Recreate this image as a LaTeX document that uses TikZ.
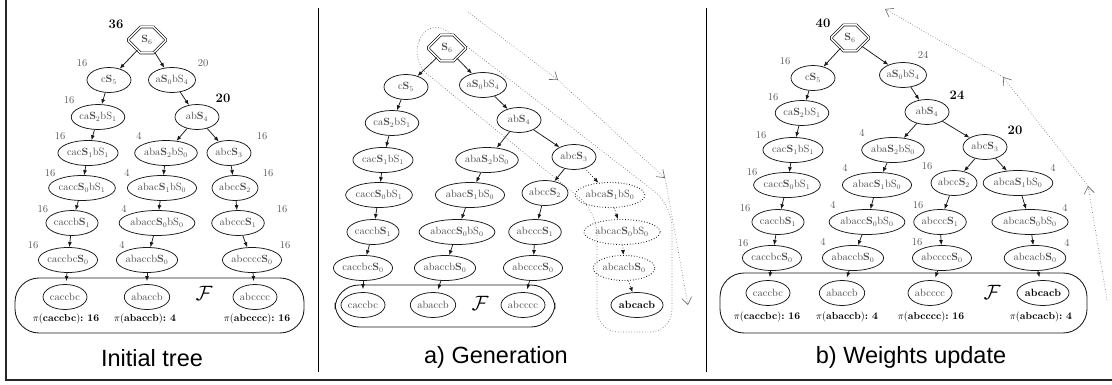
\documentclass[tikz,border=0pt]{standalone}
\usepackage{fontspec}
\newfontfamily\capfont{Liberation Sans}
\usetikzlibrary{shapes.geometric,shapes.misc,arrows.meta}
\newcommand\Sb[1]{\textbf{S}$_{#1}$}
\newcommand\Sn[1]{S$_{#1}$}
\newcommand\PiL[2]{$\pi$(\textbf{#1})\textbf{:\ #2}}
\tikzset{
 nd/.style={ellipse, draw=black!90, line width=0.75pt, inner sep=0.3pt, minimum width=44pt, minimum height=25pt, text=black!70, font=\fontsize{10.5}{12}\selectfont},
 dnd/.style={nd, dotted, line width=0.9pt},
 rootnd/.style={chamfered rectangle, chamfered rectangle xsep=9pt, chamfered rectangle ysep=8pt, draw=black!90, line width=0.65pt, double, double distance=1.5pt, inner sep=1pt, minimum width=37pt, minimum height=26pt, text=black!70, font=\fontsize{10.5}{12}\selectfont},
 edge/.style={-{Latex[length=5pt,width=4pt]}, line width=0.75pt, black!90},
 dedge/.style={edge, dotted},
 wt/.style={text=black!65, font=\fontsize{10.5}{12}\selectfont, inner sep=0pt},
 bwt/.style={font=\bfseries\fontsize{13}{14}\selectfont, inner sep=0pt},
 pil/.style={font=\fontsize{10.2}{12}\selectfont, inner sep=0pt},
 capt/.style={font=\capfont\fontsize{23.5}{26}\selectfont, inner sep=0pt},
 fam/.style={font=\fontsize{21}{22}\selectfont, inner sep=0pt},
 blob/.style={draw=black!90, line width=0.85pt, rounded corners=24pt},
 encl/.style={draw=black!55, dotted, line width=0.7pt, rounded corners=22pt},
 flow/.style={dotted, line width=0.6pt, black!60, -{Straight Barb[length=7pt,width=10pt]}}
}
\begin{document}
\begin{tikzpicture}[x=1pt,y=-1pt]
\useasboundingbox (0,0) rectangle (1112,385);
% frame
\draw[line width=2.7pt, black!85] (6,0) |- (1112,380);
\draw[line width=0.8pt] (318,8) -- (318,372);
\draw[line width=0.8pt] (706,8) -- (706,372);

% ================= Panel A: Initial tree =================
\node[rootnd] (Ar) at (147,40) {\Sb{6}};
\node[nd] (Ac1) at (109,80) {c\Sb{5}};
\node[nd] (Aa1) at (172,80) {a\Sb{0}b\Sn{4}};
\node[nd] (Aa2) at (197,117) {ab\Sb{4}};
\node[nd] (Ac2) at (98,117) {ca\Sb{2}b\Sn{1}};
\node[nd] (Ac3) at (88,153) {cac\Sb{1}b\Sn{1}};
\node[nd] (Ab3) at (166,153) {aba\Sb{2}b\Sn{0}};
\node[nd] (Ad3) at (229,153) {abc\Sb{3}};
\node[nd] (Ac4) at (82,188) {cacc\Sb{0}b\Sn{1}};
\node[nd] (Ab4) at (162,188) {abac\Sb{1}b\Sn{0}};
\node[nd] (Ad4) at (235,188) {abcc\Sb{2}};
\node[nd] (Ac5) at (72,223) {caccb\Sb{1}};
\node[nd] (Ab5) at (157,223) {abacc\Sb{0}b\Sn{0}};
\node[nd] (Ad5) at (238,223) {abccc\Sb{1}};
\node[nd] (Ac6) at (68,260) {caccbc\Sb{0}};
\node[nd] (Ab6) at (147,260) {abaccb\Sb{0}};
\node[nd] (Ad6) at (252,260) {abcccc\Sb{0}};
\draw[blob] (15,278) rectangle (304,333);
\node[nd] (AcL) at (65,297) {caccbc};
\node[nd] (AbL) at (147,297) {abaccb};
\node[nd] (AdL) at (255,297) {abcccc};
\node[fam] (AF) at (204,293) {$\mathcal{F}$};
\node[pil] (Ap1) at (66,319) {\PiL{caccbc}{16}};
\node[pil] (Ap2) at (145,319) {\PiL{abaccb}{4}};
\node[pil] (Ap3) at (257,319) {\PiL{abcccc}{16}};
\foreach \u/\v in {r/c1,r/a1,c1/c2,c2/c3,c3/c4,c4/c5,c5/c6,a1/a2,a2/b3,a2/d3,b3/b4,b4/b5,b5/b6,d3/d4,d4/d5,d5/d6}
  \draw[edge] (A\u) -- (A\v);
\foreach \u/\v in {c6/cL,b6/bL,d6/dL}
  \draw[edge, shorten >=3pt] (A\u) -- (A\v);
\node[bwt] (Aw0) at (116,24) {36};
\node[wt] (Aw1) at (82,63) {16};
\node[wt] (Aw2) at (203,63) {20};
\node[bwt] (Aw3) at (223,98) {20};
\node[wt] (Aw4) at (69,100) {16};
\node[wt] (Aw5) at (60,136) {16};
\node[wt] (Aw6) at (139,136) {4};
\node[wt] (Aw7) at (262,136) {16};
\node[wt] (Aw8) at (50,173) {16};
\node[wt] (Aw9) at (127,173) {4};
\node[wt] (Aw10) at (268,173) {16};
\node[wt] (Aw11) at (43,209) {16};
\node[wt] (Aw12) at (124,209) {4};
\node[wt] (Aw13) at (282,209) {16};
\node[wt] (Aw14) at (33,245) {16};
\node[wt] (Aw15) at (122,245) {4};
\node[wt] (Aw16) at (285,245) {16};
\node[capt] (Acap) at (152,358) {Initial tree};

% ================= Panel B: Generation =================
\draw[encl] (410,60) -- (430,18) -- (672,205) -- (672,332) -- (597,332) -- (597,212) -- cycle;
\coordinate (Bf0) at (468,12);
\coordinate (Bf1) at (558,80);
\coordinate (Bf2) at (665,178);
\coordinate (Bf3) at (688,305);
\draw[flow] (Bf0) -- (Bf1);
\draw[flow] (Bf1) -- (Bf2);
\draw[flow] (Bf2) -- (Bf3);
\node[rootnd] (Br) at (447,48) {\Sb{6}};
\node[nd] (Bc1) at (406,87) {c\Sb{5}};
\node[nd] (Ba1) at (483,85) {a\Sb{0}b\Sn{4}};
\node[nd] (Ba2) at (519,120) {ab\Sb{4}};
\node[nd] (Bc2) at (392,123) {ca\Sb{2}b\Sn{1}};
\node[nd] (Bc3) at (383,160) {cac\Sb{1}b\Sn{1}};
\node[nd] (Bb3) at (487,160) {aba\Sb{2}b\Sn{0}};
\node[nd] (Bd3) at (574,157) {abc\Sb{3}};
\node[nd] (Bc4) at (379,195) {cacc\Sb{0}b\Sn{1}};
\node[nd] (Bb4) at (470,195) {abac\Sb{1}b\Sn{0}};
\node[nd] (Bd4) at (545,193) {abcc\Sb{2}};
\node[dnd] (Be4) at (610,195) {abca\Sb{1}b\Sn{0}};
\node[nd] (Bc5) at (373,232) {caccb\Sb{1}};
\node[nd] (Bb5) at (457,232) {abacc\Sb{0}b\Sn{0}};
\node[nd] (Bd5) at (535,232) {abccc\Sb{1}};
\node[dnd] (Be5) at (622,232) {abcac\Sb{0}b\Sn{0}};
\node[nd] (Bc6) at (363,268) {caccbc\Sb{0}};
\node[nd] (Bb6) at (445,268) {abaccb\Sb{0}};
\node[nd] (Bd6) at (533,268) {abcccc\Sb{0}};
\node[dnd] (Be6) at (624,268) {abcacb\Sb{0}};
\draw[blob] (335,285) rectangle (555,327);
\node[nd] (BcL) at (363,305) {caccbc};
\node[nd] (BbL) at (433,305) {abaccb};
\node[nd] (BdL) at (523,305) {abcccc};
\node[nd, text=black, font=\bfseries\fontsize{10.5}{12}\selectfont] (BeL) at (637,305) {abcacb};
\node[fam] (BF) at (480,303) {$\mathcal{F}$};
\foreach \u/\v in {r/c1,r/a1,c1/c2,c2/c3,c3/c4,c4/c5,c5/c6,a1/a2,a2/b3,a2/d3,b3/b4,b4/b5,b5/b6,d3/d4,d4/d5,d5/d6}
  \draw[edge] (B\u) -- (B\v);
\foreach \u/\v in {c6/cL,b6/bL,d6/dL}
  \draw[edge, shorten >=3pt] (B\u) -- (B\v);
\foreach \u/\v in {d3/e4,e4/e5,e5/e6,e6/eL}
  \draw[dedge] (B\u) -- (B\v);
\node[capt] (Bcap) at (496,357) {a) Generation};

% ================= Panel C: Weights update =================
\coordinate (Cf0) at (1107,300);
\coordinate (Cf1) at (1088,186);
\coordinate (Cf2) at (1003,77);
\coordinate (Cf3) at (885,9);
\draw[flow] (Cf0) -- (Cf1);
\draw[flow] (Cf1) -- (Cf2);
\draw[flow] (Cf2) -- (Cf3);
\node[rootnd] (Cr) at (850,38) {\Sb{6}};
\node[nd] (Cc1) at (813,78) {c\Sb{5}};
\node[nd] (Ca1) at (903,75) {a\Sb{0}b\Sn{4}};
\node[nd] (Ca2) at (927,112) {ab\Sb{4}};
\node[nd] (Cc2) at (802,113) {ca\Sb{2}b\Sn{1}};
\node[nd] (Cd3) at (985,147) {abc\Sb{3}};
\node[nd] (Cc3) at (793,150) {cac\Sb{1}b\Sn{1}};
\node[nd] (Cb3) at (893,150) {aba\Sb{2}b\Sn{0}};
\node[nd] (Cc4) at (787,185) {cacc\Sb{0}b\Sn{1}};
\node[nd] (Cb4) at (877,185) {abac\Sb{1}b\Sn{0}};
\node[nd] (Cd4) at (954,183) {abcc\Sb{2}};
\node[nd] (Ce4) at (1018,183) {abca\Sb{1}b\Sn{0}};
\node[nd] (Cc5) at (778,222) {caccb\Sb{1}};
\node[nd] (Cb5) at (867,222) {abacc\Sb{0}b\Sn{0}};
\node[nd] (Cd5) at (940,222) {abccc\Sb{1}};
\node[nd] (Ce5) at (1030,222) {abcac\Sb{0}b\Sn{0}};
\node[nd] (Cc6) at (772,258) {caccbc\Sb{0}};
\node[nd] (Cb6) at (853,258) {abaccb\Sb{0}};
\node[nd] (Cd6) at (942,258) {abcccc\Sb{0}};
\node[nd] (Ce6) at (1035,258) {abcacb\Sb{0}};
\draw[blob] (720,273) rectangle (1087,333);
\node[nd] (CcL) at (768,293) {caccbc};
\node[nd] (CbL) at (842,293) {abaccb};
\node[nd] (CdL) at (930,293) {abcccc};
\node[nd, text=black, font=\bfseries\fontsize{10.5}{12}\selectfont] (CeL) at (1043,293) {abcacb};
\node[fam] (CF) at (992,292) {$\mathcal{F}$};
\node[pil] (Cp1) at (767,317) {\PiL{caccbc}{16}};
\node[pil] (Cp2) at (847,317) {\PiL{abaccb}{4}};
\node[pil] (Cp3) at (931,317) {\PiL{abcccc}{16}};
\node[pil] (Cp4) at (1041,317) {\PiL{abcacb}{4}};
\foreach \u/\v in {r/c1,r/a1,c1/c2,c2/c3,c3/c4,c4/c5,c5/c6,a1/a2,a2/b3,a2/d3,b3/b4,b4/b5,b5/b6,d3/d4,d4/d5,d5/d6,d3/e4,e4/e5,e5/e6}
  \draw[edge] (C\u) -- (C\v);
\foreach \u/\v in {c6/cL,b6/bL,d6/dL,e6/eL}
  \draw[edge, shorten >=3pt] (C\u) -- (C\v);
\node[bwt] (Cw0) at (823,23) {40};
\node[wt] (Cw1) at (785,61) {16};
\node[wt] (Cw2) at (923,55) {24};
\node[bwt] (Cw3) at (957,95) {24};
\node[wt] (Cw4) at (773,97) {16};
\node[bwt] (Cw5) at (1015,130) {20};
\node[wt] (Cw6) at (761,135) {16};
\node[wt] (Cw7) at (862,133) {4};
\node[wt] (Cw8) at (752,172) {16};
\node[wt] (Cw9) at (845,168) {4};
\node[wt] (Cw10) at (927,166) {16};
\node[wt] (Cw11) at (1053,168) {4};
\node[wt] (Cw12) at (745,208) {16};
\node[wt] (Cw13) at (833,205) {4};
\node[wt] (Cw14) at (918,205) {16};
\node[wt] (Cw15) at (1065,208) {4};
\node[wt] (Cw16) at (743,243) {16};
\node[wt] (Cw17) at (823,242) {4};
\node[wt] (Cw18) at (917,242) {16};
\node[wt] (Cw19) at (1067,243) {4};
\node[capt] (Ccap) at (911,357) {b) Weights update};
\end{tikzpicture}
\end{document}
